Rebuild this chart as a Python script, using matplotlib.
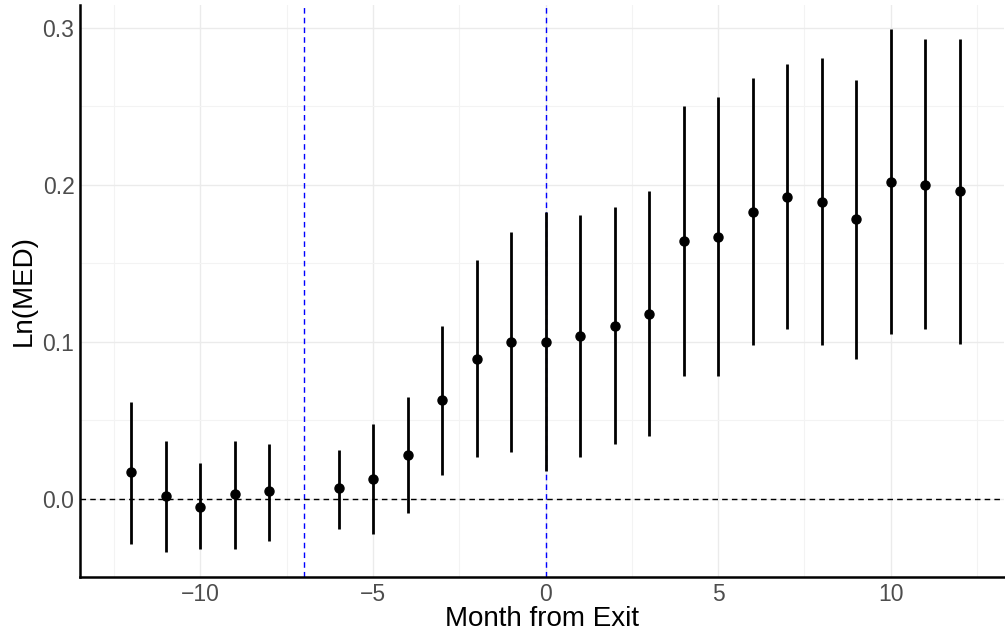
import numpy as np
import matplotlib
matplotlib.use('Agg')
import matplotlib.pyplot as plt
from matplotlib.ticker import MultipleLocator

# event-study estimates, month -7 is the reference month (omitted)
months = [-12, -11, -10, -9, -8, -6, -5, -4, -3, -2, -1, 0,
          1, 2, 3, 4, 5, 6, 7, 8, 9, 10, 11, 12]
estimate = [0.017, 0.002, -0.005, 0.003, 0.005, 0.007, 0.013, 0.028, 0.063, 0.089, 0.100, 0.100,
            0.104, 0.110, 0.118, 0.164, 0.167, 0.183, 0.192, 0.189, 0.178, 0.202, 0.200, 0.196]
ci_low = [-0.029, -0.034, -0.032, -0.032, -0.027, -0.019, -0.022, -0.009, 0.015, 0.027, 0.030, 0.018,
          0.027, 0.035, 0.040, 0.078, 0.078, 0.098, 0.108, 0.098, 0.089, 0.105, 0.108, 0.099]
ci_high = [0.062, 0.037, 0.023, 0.037, 0.035, 0.031, 0.048, 0.065, 0.110, 0.152, 0.170, 0.183,
           0.181, 0.186, 0.196, 0.250, 0.256, 0.268, 0.277, 0.281, 0.267, 0.299, 0.293, 0.293]
vlines = [-7, 0]

plt.rcParams['font.family'] = ['Liberation Sans', 'DejaVu Sans']

fig = plt.figure(figsize=(10.05, 6.39), dpi=100)
ax = fig.add_axes([80 / 1005, 62 / 639, 924 / 1005, 572 / 639])

for v in vlines:
    ax.axvline(v, color='blue', linestyle=(0, (4, 3)), linewidth=1.0, zorder=1)
ax.axhline(0, color='black', linestyle=(0, (4, 3)), linewidth=1.0, zorder=1)

ax.vlines(months, ci_low, ci_high, color='black', linewidth=2.0, zorder=2)
ax.plot(months, estimate, 'o', color='black', markersize=6.5, zorder=3)

ax.set_xlim(-13.49, 13.28)
ax.set_ylim(-0.0497, 0.3146)
ax.xaxis.set_major_locator(MultipleLocator(5))
ax.xaxis.set_minor_locator(MultipleLocator(2.5))
ax.yaxis.set_major_locator(MultipleLocator(0.1))
ax.yaxis.set_minor_locator(MultipleLocator(0.05))
ax.yaxis.set_major_formatter(matplotlib.ticker.FormatStrFormatter('%.1f'))

ax.grid(which='major', color='#EBEBEB', linewidth=1.0, zorder=0)
ax.grid(which='minor', color='#F3F3F3', linewidth=0.8, zorder=0)
ax.set_axisbelow(True)

for s in ['top', 'right']:
    ax.spines[s].set_visible(False)
for s in ['left', 'bottom']:
    ax.spines[s].set_linewidth(1.8)
    ax.spines[s].set_color('black')

ax.tick_params(which='both', length=0, labelsize=16.5, labelcolor='#4D4D4D', pad=4)
ax.set_xlabel('Month from Exit', fontsize=20, labelpad=0)
ax.set_ylabel('Ln(MED)', fontsize=20, labelpad=4)

fig.savefig('out.png', dpi=100)
